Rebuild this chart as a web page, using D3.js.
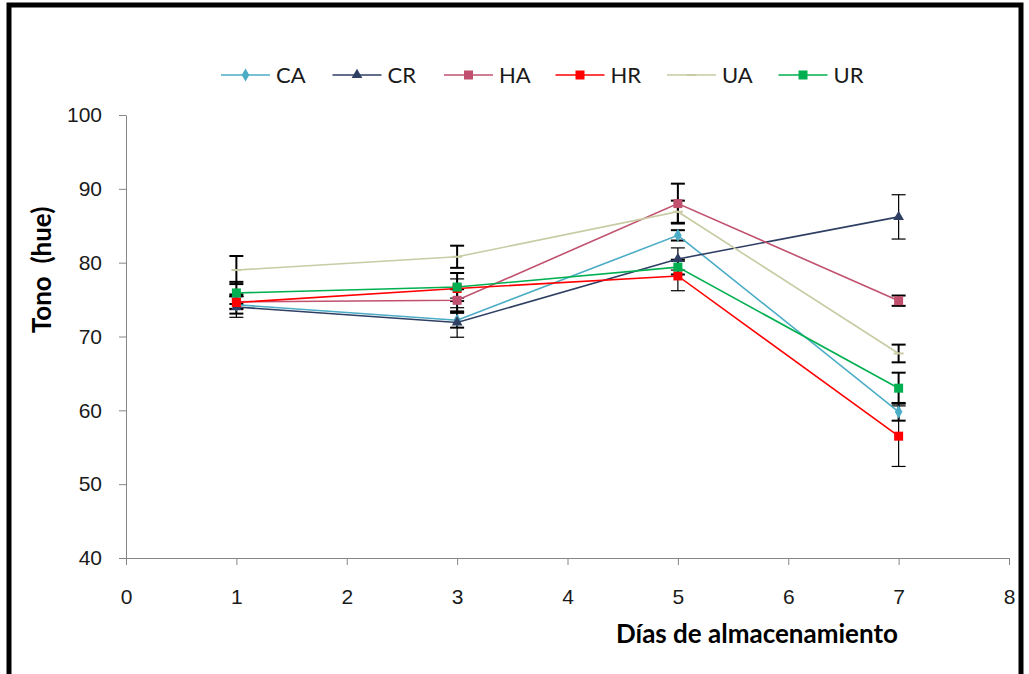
<!DOCTYPE html>
<html>
<head>
<meta charset="utf-8">
<script src="https://cdn.jsdelivr.net/npm/d3@7"></script>
<style>
  body { margin: 0; background: #fff; }
  svg { display: block; font-family: Lato, "Open Sans", sans-serif; }
</style>
</head>
<body>
<div id="chart"></div>
<script>
// days of storage and series
var days = [1, 3, 5, 7];
var seriesNames = ["CA", "CR", "HA", "HR", "UA", "UR"];
var seriesColors = ["#4bacc6", "#2f3f63", "#c0506e", "#ff0000", "#c8cba4", "#00b050"];
var seriesMarkers = ["diamond", "triangle", "square", "square", "dash", "square"];

// hue values per series
var CA = [74.3, 72.2, 83.7, 59.8];
var CR = [74.0, 71.9, 80.5, 86.2];
var HA = [74.7, 74.9, 88.0, 74.85];
var HR = [74.6, 76.5, 78.2, 56.5];
var UA = [79.0, 80.8, 86.9, 67.7];
var UR = [75.9, 76.7, 79.4, 63.0];

// error bar half-widths
var CA_err = [1.2, 1.0, 0.7, 1.2];
var CR_err = [1.4, 2.0, 1.5, 3.0];
var HA_err = [1.0, 1.5, 2.7, 0.7];
var HR_err = [0.8, 1.3, 2.0, 4.1];
var UA_err = [1.9, 1.5, 1.5, 1.2];
var UR_err = [1.5, 1.9, 1.0, 2.1];

var xTicks = [0, 1, 2, 3, 4, 5, 6, 7, 8];
var yTicks = [40, 50, 60, 70, 80, 90, 100];

var values = [CA, CR, HA, HR, UA, UR];
var errors = [CA_err, CR_err, HA_err, HR_err, UA_err, UR_err];
var errWidths = [2, 1.2, 2, 1.2, 2, 2];

var series = seriesNames.map(function (name, i) {
    return {
        name: name,
        color: seriesColors[i],
        marker: seriesMarkers[i],
        errWidth: errWidths[i],
        points: days.map(function (d, j) {
            return {day: d, value: values[i][j], err: errors[i][j]};
        })
    };
});

var width = 1029, height = 674;
var svg = d3.select("#chart").append("svg")
    .attr("width", width)
    .attr("height", height);

// frame
svg.append("rect")
    .attr("x", 9).attr("y", 5)
    .attr("width", 1012).attr("height", 700)
    .attr("fill", "none")
    .attr("stroke", "#000")
    .attr("stroke-width", 5);

var xScale = d3.scaleLinear().domain([0, 8]).range([126, 1009]);
var yScale = d3.scaleLinear().domain([40, 100]).range([558, 115]);

// axes
var xAxis = svg.append("g")
    .attr("transform", "translate(0," + yScale(40) + ")")
    .call(d3.axisBottom(xScale).tickValues(xTicks).tickSize(7).tickSizeOuter(0).tickPadding(24));

var yAxis = svg.append("g")
    .attr("transform", "translate(" + xScale(0) + ",0)")
    .call(d3.axisLeft(yScale).tickValues(yTicks).tickSize(7).tickSizeOuter(0).tickPadding(17));

[xAxis, yAxis].forEach(function (ax) {
    ax.select(".domain").attr("stroke", "#868686");
    ax.selectAll(".tick line").attr("stroke", "#868686");
    ax.selectAll(".tick text")
        .attr("fill", "#1a1a1a")
        .style("font-size", "21px");
});

// axis titles
svg.append("text")
    .attr("x", 757).attr("y", 643)
    .attr("text-anchor", "middle")
    .style("font-size", "26px")
    .style("font-weight", "bold")
    .text("Días de almacenamiento");

svg.append("text")
    .attr("transform", "translate(51,270) rotate(-90)")
    .attr("text-anchor", "middle")
    .style("font-size", "26px")
    .style("font-weight", "bold")
    .style("white-space", "pre")
    .text("Tono  (hue)");

// error bars
var errG = svg.append("g");
series.forEach(function (s) {
    var g = errG.append("g");
    s.points.forEach(function (p) {
        var cx = xScale(p.day);
        var y1 = yScale(p.value + p.err), y2 = yScale(p.value - p.err);
        g.append("line").attr("x1", cx).attr("x2", cx).attr("y1", y1).attr("y2", y2)
            .attr("stroke", "#000").attr("stroke-width", s.errWidth);
        [y1, y2].forEach(function (yy) {
            g.append("line").attr("x1", cx - 7).attr("x2", cx + 7).attr("y1", yy).attr("y2", yy)
                .attr("stroke", "#000").attr("stroke-width", s.errWidth);
        });
    });
});

// lines
var line = d3.line()
    .x(function (d) { return xScale(d.day); })
    .y(function (d) { return yScale(d.value); });

svg.append("g").selectAll("path")
    .data(series)
    .enter().append("path")
    .attr("d", function (d) { return line(d.points); })
    .attr("fill", "none")
    .attr("stroke", function (d) { return d.color; })
    .attr("stroke-width", 1.6);

// markers
function drawMarker(g, type, color, x, y) {
    if (type === "square") {
        g.append("rect").attr("x", x - 4.5).attr("y", y - 4.5).attr("width", 9).attr("height", 9).attr("fill", color);
    } else if (type === "diamond") {
        g.append("path").attr("d", d3.symbol().type(d3.symbolDiamond).size(50)())
            .attr("transform", "translate(" + x + "," + y + ")").attr("fill", color);
    } else if (type === "triangle") {
        g.append("path").attr("d", d3.symbol().type(d3.symbolTriangle).size(50)())
            .attr("transform", "translate(" + x + "," + y + ")").attr("fill", color);
    } else if (type === "dash") {
        g.append("line").attr("x1", x - 5).attr("x2", x + 5).attr("y1", y).attr("y2", y)
            .attr("stroke", color).attr("stroke-width", 2);
    }
}

var markG = svg.append("g");
series.forEach(function (s) {
    s.points.forEach(function (p) {
        drawMarker(markG, s.marker, s.color, xScale(p.day), yScale(p.value));
    });
});

// legend
var legend = svg.append("g").attr("transform", "translate(221,75)");
series.forEach(function (s, i) {
    var g = legend.append("g").attr("transform", "translate(" + (i * 111.5) + ",0)");
    g.append("line").attr("x1", 0).attr("x2", 49).attr("y1", 0).attr("y2", 0)
        .attr("stroke", s.color).attr("stroke-width", 1.6);
    drawMarker(g, s.marker, s.color, 24.5, 0);
    g.append("text").attr("x", 55).attr("y", 8)
        .style("font-size", "22px")
        .attr("fill", "#1a1a1a")
        .text(s.name);
});
</script>
</body>
</html>
